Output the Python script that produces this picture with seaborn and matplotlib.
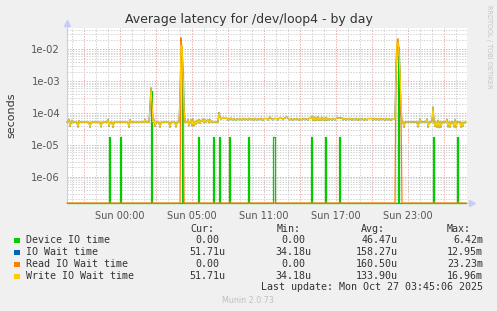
import numpy as np
import pandas as pd
import matplotlib
matplotlib.use("Agg")
import matplotlib.pyplot as plt
import seaborn as sns
from matplotlib.patches import Rectangle
from matplotlib.ticker import FixedLocator, FixedFormatter, NullFormatter

# ---------------- data (5-minute sample steps from the left edge) ----------------
START_MIN = -265      # minutes relative to Sun 00:00 of the first sample
STEP_MIN = 5

write_steps = [0, 2, 3, 4, 5, 6, 10, 11, 12, 13, 22, 23, 24, 33, 34, 35, 40, 41, 42, 43,
               45, 46, 47, 61, 62, 63, 64, 77, 78, 79, 82, 83, 84, 85, 86, 87, 88, 89,
               92, 93, 94, 102, 103, 104, 108, 109, 110, 112, 113, 114, 115, 116, 117, 118,
               120, 121, 122, 123, 124, 125, 126, 127, 128, 129, 130, 131, 132, 133, 134,
               135, 136, 137, 138, 139, 140, 141, 142, 143, 144, 145, 146, 151, 152, 153,
               154, 155, 156, 160, 161, 162, 163, 164, 166, 167, 169, 170, 172, 173, 175,
               176, 178, 179, 181, 182, 184, 185, 187, 188, 190, 191, 193, 194, 196, 197,
               200, 201, 202, 203, 204, 206, 207, 210, 211, 212, 215, 216, 217, 220, 221,
               223, 224, 226, 227, 229, 230, 232, 233, 235, 236, 238, 239, 241, 242, 244,
               245, 246, 247, 248, 249, 250, 251, 252, 253, 254, 255, 256, 257, 258, 259,
               260, 261, 262, 263, 265, 266, 268, 269, 270, 275, 276, 277, 279, 280, 282,
               283, 285, 286, 288, 289, 291, 292, 294, 295, 297, 298, 300, 301, 305, 306,
               307, 309, 310, 312, 313, 315, 316, 318, 319, 321, 322, 324, 325, 328, 329,
               330, 331, 332, 333, 334, 335, 336, 337, 338, 350, 351, 352, 353, 354, 359,
               360, 361, 362, 365, 366, 367, 368, 369, 370, 371, 372, 373, 374, 375, 379,
               380, 381, 382, 383, 384, 386, 387, 388, 389, 390, 393, 394, 395, 396, 397,
               399]
write_vals = [5.2e-5, 6.4e-5, 3.8e-5, 5.2e-5, 6.0e-5, 5.2e-5, 5.2e-5, 3.7e-5, 5.8e-5, 5.2e-5,
              5.2e-5, 3.6e-5, 5.2e-5, 5.2e-5, 3.7e-5, 5.2e-5, 5.2e-5, 6.4e-5, 3.8e-5, 5.2e-5,
              5.2e-5, 3.6e-5, 5.2e-5, 5.2e-5, 3.6e-5, 6.3e-5, 5.2e-5, 5.2e-5, 6.5e-5, 5.2e-5,
              5.2e-5, 1.5e-4, 6.2e-4, 2.0e-4, 5.2e-5, 6.4e-5, 3.8e-5, 5.2e-5,
              5.2e-5, 3.6e-5, 5.2e-5, 5.2e-5, 3.6e-5, 5.2e-5, 5.2e-5, 3.7e-5, 5.2e-5,
              5.2e-5, 3.0e-4, 1.2e-2, 1.3e-2, 2.0e-3, 1.5e-4, 5.2e-5,
              5.2e-5, 6.4e-5, 4.0e-5, 5.2e-5, 6.2e-5, 4.0e-5, 6.5e-5, 4.0e-5, 5.5e-5, 4.5e-5,
              6.0e-5, 5.0e-5, 6.3e-5, 4.8e-5, 6.0e-5,
              5.5e-5, 6.5e-5, 5.0e-5, 6.4e-5, 5.2e-5, 5.8e-5, 6.2e-5, 5.0e-5, 6.3e-5, 5.2e-5,
              5.6e-5, 5.2e-5, 5.2e-5, 1.05e-4, 7.5e-5,
              6.5e-5, 7.0e-5, 6.9e-5, 6.9e-5, 6.0e-5, 6.9e-5, 6.2e-5, 7.0e-5, 6.1e-5, 6.9e-5,
              6.0e-5, 6.8e-5, 6.2e-5, 6.9e-5, 6.0e-5,
              6.9e-5, 6.1e-5, 6.8e-5, 6.0e-5, 6.9e-5, 6.2e-5, 6.8e-5, 6.0e-5, 6.9e-5, 6.1e-5,
              6.8e-5, 6.2e-5, 7.0e-5, 6.0e-5, 6.8e-5,
              6.8e-5, 6.1e-5, 6.9e-5, 7.6e-5, 6.8e-5, 6.2e-5, 6.8e-5, 6.8e-5, 6.1e-5, 6.9e-5,
              6.9e-5, 6.2e-5, 6.8e-5, 7.6e-5, 6.8e-5,
              6.1e-5, 6.9e-5, 6.0e-5, 6.8e-5, 6.2e-5, 6.9e-5, 6.0e-5, 6.8e-5, 6.1e-5, 6.9e-5,
              6.2e-5, 6.8e-5, 6.0e-5, 6.9e-5, 6.8e-5,
              8.0e-5, 6.0e-5, 7.5e-5, 5.8e-5, 7.2e-5, 6.0e-5, 7.6e-5, 5.9e-5, 7.0e-5, 6.0e-5,
              7.4e-5, 6.1e-5, 7.0e-5, 5.9e-5, 7.3e-5,
              6.0e-5, 6.9e-5, 6.1e-5, 6.8e-5, 6.0e-5, 6.9e-5, 6.1e-5, 6.8e-5, 7.0e-5, 7.0e-5,
              6.1e-5, 6.9e-5, 6.0e-5, 6.8e-5, 6.2e-5,
              6.9e-5, 6.0e-5, 6.8e-5, 6.1e-5, 6.9e-5, 6.0e-5, 6.8e-5, 6.2e-5, 6.9e-5, 6.0e-5,
              6.8e-5, 6.1e-5, 6.8e-5, 6.8e-5, 6.0e-5,
              6.9e-5, 6.1e-5, 6.8e-5, 6.0e-5, 6.9e-5, 6.2e-5, 6.8e-5, 6.0e-5, 6.9e-5, 6.1e-5,
              6.8e-5, 6.0e-5, 6.7e-5, 6.7e-5, 2.0e-3,
              1.4e-2, 1.7e-2, 8.0e-3, 1.5e-3, 2.0e-4, 5.3e-5, 5.3e-5, 3.6e-5, 5.3e-5, 5.3e-5,
              3.7e-5, 5.3e-5, 6.5e-5, 5.3e-5, 5.3e-5,
              6.5e-5, 3.6e-5, 5.3e-5, 5.3e-5, 1.55e-4, 5.5e-5, 3.8e-5, 5.3e-5, 3.6e-5, 6.0e-5,
              3.5e-5, 5.5e-5, 3.6e-5, 5.3e-5, 5.3e-5,
              6.4e-5, 3.7e-5, 5.3e-5, 3.6e-5, 5.3e-5, 5.3e-5, 3.7e-5, 6.2e-5, 3.5e-5, 5.3e-5,
              5.3e-5, 3.6e-5, 5.2e-5, 3.8e-5, 5.2e-5,
              5.2e-5]

# IO wait equals write wait except around the two burst periods
iowait_override_steps = [113, 114, 115, 116, 117, 329, 330, 331, 332, 333, 334]
iowait_override_vals = [2.5e-4, 1.0e-2, 1.2e-2, 2.2e-3, 1.4e-4, 1.8e-3, 1.1e-2, 1.3e-2, 1.1e-2, 1.0e-3, 1.0e-4]

read_steps = [0, 112, 113, 114, 115, 116, 117, 328, 329, 330, 331, 332, 333, 334, 335, 399]
read_vals = [0.0, 0.0, 0.0, 2.32e-2, 9.0e-3, 8.0e-4, 0.0, 0.0, 4.0e-3, 1.6e-2, 2.2e-2, 1.0e-2,
             1.5e-3, 1.0e-4, 0.0, 0.0]

device_steps = [0, 41, 42, 43, 52, 53, 54, 83, 84, 85, 114, 115, 116, 130, 131, 132, 145, 146,
                147, 151, 152, 153, 161, 162, 163, 180, 181, 182, 205, 206, 207, 208, 243,
                244, 245, 257, 258, 259, 271, 272, 273, 330, 331, 332, 365, 366, 367, 389,
                390, 391, 399]
device_vals = [0.0, 0.0, 1.8e-5, 0.0, 0.0, 1.8e-5, 0.0, 0.0, 5.0e-4, 0.0, 0.0, 2.0e-3, 0.0,
               0.0, 1.8e-5, 0.0, 0.0, 1.8e-5, 0.0, 0.0, 1.8e-5, 0.0, 0.0, 1.8e-5, 0.0, 0.0,
               1.8e-5, 0.0, 0.0, 1.8e-5, 1.8e-5, 0.0, 0.0, 1.8e-5, 0.0, 0.0, 1.8e-5, 0.0,
               0.0, 1.8e-5, 0.0, 0.0, 6.42e-3, 0.0, 0.0, 1.8e-5, 0.0, 0.0, 1.8e-5, 0.0, 0.0]

x_major_minutes = [-180, 0, 180, 360, 540, 720, 900, 1080, 1260, 1440, 1620]
x_tick_labels = ["", "Sun 00:00", "", "Sun 05:00", "", "Sun 11:00", "", "Sun 17:00", "",
                 "Sun 23:00", ""]
y_ticks = [1e-6, 1e-5, 1e-4, 1e-3, 1e-2]
y_tick_labels = ["1e-06", "1e-05", "1e-04", "1e-03", "1e-02"]

series_names = ["Device IO time", "IO Wait time", "Read IO Wait time", "Write IO Wait time"]
series_colors = ["#00CC00", "#0066B3", "#FF8000", "#FFCC00"]
cur_vals = ["0.00", "51.71u", "0.00", "51.71u"]
min_vals = ["0.00", "34.18u", "0.00", "34.18u"]
avg_vals = ["46.47u", "158.27u", "160.50u", "133.90u"]
max_vals = ["6.42m", "12.95m", "23.23m", "16.96m"]

# ---------------- figure ----------------
W, H = 497, 311
sns.set_theme(style="white")
plt.rcParams['font.family'] = ['DejaVu Sans']

YMIN, YMAX = 1.52e-7, 0.047
XMIN, XMAX = START_MIN, START_MIN + 400 * STEP_MIN

fig = plt.figure(figsize=(W / 100, H / 100), dpi=100, facecolor="#F0F0F0")
ax = fig.add_axes([67 / W, (H - 203) / H, 400 / W, 175 / H])
ax.set_facecolor("white")


def to_min(steps):
    return START_MIN + STEP_MIN * np.asarray(steps, dtype=float)


write_df = pd.DataFrame({"t": to_min(write_steps), "v": write_vals})
iow = dict(zip(write_steps, write_vals))
iow.update(dict(zip(iowait_override_steps, iowait_override_vals)))
iow_steps = sorted(iow)
iow_df = pd.DataFrame({"t": to_min(iow_steps), "v": [iow[s] for s in iow_steps]})
read_df = pd.DataFrame({"t": to_min(read_steps), "v": np.maximum(read_vals, YMIN)})
dev_df = pd.DataFrame({"t": to_min(device_steps), "v": np.maximum(device_vals, YMIN)})

lw = 0.9
sns.lineplot(data=dev_df, x="t", y="v", ax=ax, color=series_colors[0], lw=lw,
             estimator=None, sort=False, drawstyle="steps-mid", zorder=3, clip_on=False)
sns.lineplot(data=iow_df, x="t", y="v", ax=ax, color=series_colors[1], lw=lw,
             estimator=None, sort=False, zorder=3.1, clip_on=False)
sns.lineplot(data=read_df, x="t", y="v", ax=ax, color=series_colors[2], lw=lw,
             estimator=None, sort=False, zorder=3.2, clip_on=False)
sns.lineplot(data=write_df, x="t", y="v", ax=ax, color=series_colors[3], lw=lw,
             estimator=None, sort=False, zorder=3.3, clip_on=False)

ax.set_yscale("log")
ax.set_ylim(YMIN, YMAX)
ax.set_xlim(XMIN, XMAX)
ax.set_xlabel("")
ax.set_ylabel("")

ax.xaxis.set_major_locator(FixedLocator(x_major_minutes))
ax.xaxis.set_major_formatter(FixedFormatter(x_tick_labels))
ax.xaxis.set_minor_locator(FixedLocator(np.arange(-240, 1740, 60)))
ax.yaxis.set_major_locator(FixedLocator(y_ticks))
ax.yaxis.set_major_formatter(FixedFormatter(y_tick_labels))
minor_y = [m * 10.0 ** e for e in range(-7, -1) for m in range(2, 10)]
minor_y = [v for v in minor_y if YMIN < v < YMAX]
ax.yaxis.set_minor_locator(FixedLocator(minor_y))
ax.yaxis.set_minor_formatter(NullFormatter())

dot = (0, (1.4, 1.4))
ax.grid(which="minor", color="#D2D2D2", linestyle=dot, lw=0.7)
ax.grid(which="major", color="#F0A8A8", linestyle=dot, lw=0.7)
ax.set_axisbelow(True)

ax.tick_params(axis="both", which="major", length=2.5, width=0.7, color="#E8A0A0",
               labelsize=7.2, labelcolor="#555555", pad=2.5)
ax.tick_params(axis="both", which="minor", length=2, width=0.7, color="#C8C8C8")
ax.tick_params(axis="x", which="major", labelsize=7.0, pad=3)

for s in ["top", "right"]:
    ax.spines[s].set_visible(False)
for s in ["left", "bottom"]:
    ax.spines[s].set_color("#C8CCF4")
    ax.spines[s].set_linewidth(0.8)

# axis arrows
ax.plot([0], [1.0 + 4.5 / 175], marker="^", ms=4.5, color="#C8CCF4", transform=ax.transAxes,
        clip_on=False, zorder=5)
ax.plot([0, 0], [1.0, 1.0 + 4 / 175], color="#C8CCF4", lw=0.8, transform=ax.transAxes,
        clip_on=False)
ax.plot([1.0 + 5 / 400], [0], marker=">", ms=4.5, color="#C8CCF4", transform=ax.transAxes,
        clip_on=False, zorder=5)
ax.plot([1.0, 1.0 + 4 / 400], [0, 0], color="#C8CCF4", lw=0.8, transform=ax.transAxes,
        clip_on=False)

# ---------------- texts ----------------
def fx(px):
    return px / W


def fy(py):
    return 1 - py / H


fig.text(fx(248.5), fy(19), "Average latency for /dev/loop4 - by day", ha="center",
         va="center", fontsize=9, color="#333333")
fig.text(fx(11), fy(115.5), "seconds", rotation=90, ha="center", va="center",
         fontsize=8, color="#333333")
fig.text(fx(489), fy(5), "RRDTOOL / TOBI OETIKER", rotation=270, ha="center", va="top",
         fontsize=4.7, color="#C4C4C4")

mono = "DejaVu Sans Mono"
fs = 7.2
char_w = 6.0
fig.text(fx(190.7), fy(228.5), "Cur:", family=mono, fontsize=fs, color="#333333", va="center")
fig.text(fx(276.3), fy(228.5), "Min:", family=mono, fontsize=fs, color="#333333", va="center")
fig.text(fx(361), fy(228.5), "Avg:", family=mono, fontsize=fs, color="#333333", va="center")
fig.text(fx(446.7), fy(228.5), "Max:", family=mono, fontsize=fs, color="#333333", va="center")

col_right = [225.3, 311.3, 397.3, 483.0]
row_y = [240.0, 252.0, 264.0, 276.0]
for i, name in enumerate(series_names):
    y = row_y[i]
    fig.patches.append(Rectangle((fx(14), fy(y + 3)), 5.5 / W, 5.5 / H,
                                 transform=fig.transFigure, facecolor=series_colors[i],
                                 edgecolor="none"))
    fig.text(fx(26), fy(y), name, family=mono, fontsize=fs, color="#333333", va="center")
    for xr, vals in zip(col_right, [cur_vals, min_vals, avg_vals, max_vals]):
        v = vals[i]
        off = 0 if v[-1].isalpha() else char_w
        fig.text(fx(xr - off), fy(y), v, family=mono, fontsize=fs, color="#333333",
                 va="center", ha="right")

fig.text(fx(483), fy(287.5), "Last update: Mon Oct 27 03:45:06 2025", family=mono,
         fontsize=fs, color="#333333", va="center", ha="right")
fig.text(fx(248), fy(300.5), "Munin 2.0.73", fontsize=5.8, color="#C0C0C0", ha="center",
         va="center")

fig.savefig("out.png", dpi=100, facecolor=fig.get_facecolor())
